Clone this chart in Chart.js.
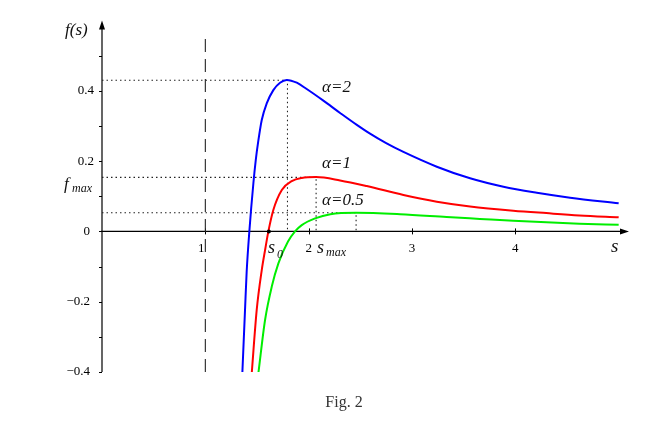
<!DOCTYPE html>
<html>
<head>
<meta charset="utf-8">
<script src="https://cdn.jsdelivr.net/npm/chart.js@4"></script>
<style>
  html, body { margin: 0; padding: 0; background: #fff; }
  canvas { display: block; }
</style>
</head>
<body>
<canvas id="fig" width="671" height="439"></canvas>
<script>
// values
const sBlue = [1.358, 1.384, 1.40, 1.426, 1.465, 1.488, 1.513, 1.546, 1.594, 1.658, 1.723, 1.788, 1.885, 1.981, 2.142, 2.304, 2.466, 2.594, 2.75, 2.917, 3.24, 3.562, 3.885, 4.208, 4.53, 5.0];
const fBlue = [-0.404, -0.224, -0.115, 0, 0.137, 0.203, 0.258, 0.317, 0.364, 0.402, 0.423, 0.431, 0.423, 0.405, 0.372, 0.337, 0.303, 0.278, 0.251, 0.226, 0.184, 0.151, 0.127, 0.110, 0.096, 0.080];

const sRed = [1.449, 1.497, 1.546, 1.58, 1.61, 1.658, 1.74, 1.836, 1.933, 2.072, 2.304, 2.562, 2.917, 3.24, 3.562, 3.98, 4.3, 4.62, 5.0];
const fRed = [-0.404, -0.224, -0.11, -0.05, 0, 0.061, 0.118, 0.143, 0.152, 0.1545, 0.145, 0.129, 0.1036, 0.0846, 0.071, 0.059, 0.052, 0.0455, 0.040];

const sGreen = [1.513, 1.578, 1.643, 1.707, 1.80, 1.868, 1.933, 2.062, 2.21, 2.459, 2.884, 3.335, 3.657, 3.98, 4.3, 4.62, 5.0];
const fGreen = [-0.404, -0.252, -0.157, -0.091, -0.029, 0, 0.018, 0.037, 0.049, 0.053, 0.049, 0.041, 0.0355, 0.030, 0.026, 0.022, 0.019];

const alphas = ['α=2', 'α=1', 'α=0.5'];
const sMax = [1.795, 2.072, 2.459];
const fMax = [0.430, 0.1536, 0.053];
const s0 = 1.615;
const asymptote = 1;

const xTicks = [1, 2, 3, 4];
const yTicks = [-0.4, -0.2, 0, 0.2, 0.4];
const yMinor = [-0.3, -0.1, 0.1, 0.3, 0.5];

const pts = (xs, ys) => xs.map((x, i) => ({ x: x, y: ys[i] }));

function curve(xs, ys, color) {
    return {
        data: pts(xs, ys),
        borderColor: color,
        borderWidth: 2,
        pointRadius: 0,
        cubicInterpolationMode: 'monotone',
        order: 1
    };
}

function guide(points, dash) {
    return {
        data: points,
        borderColor: '#222',
        borderWidth: 1.1,
        borderDash: dash,
        pointRadius: 0,
        tension: 0,
        order: 5
    };
}

const datasets = [
    curve(sBlue, fBlue, '#0000ff'),
    curve(sRed, fRed, '#ff0000'),
    curve(sGreen, fGreen, '#00ee00')
];
sMax.forEach((s, i) => {
    datasets.push(guide([{ x: 0, y: fMax[i] }, { x: s, y: fMax[i] }, { x: s, y: 0 }], [1.5, 3]));
});
datasets.push(guide([{ x: asymptote, y: -0.4 }, { x: asymptote, y: 0.567 }], [13, 7]));
datasets.push({
    data: [{ x: s0, y: 0 }],
    showLine: false,
    pointRadius: 2,
    pointBackgroundColor: '#000',
    pointBorderWidth: 0,
    order: 0
});

const SERIF = '"Liberation Serif", "DejaVu Serif", serif';

// axes with arrows, ticks and the labels of the figure
const figurePlugin = {
    id: 'figure',
    beforeDatasetsDraw(chart) {
        const ctx = chart.ctx;
        const xs = chart.scales.x, ys = chart.scales.y;
        const x0 = xs.getPixelForValue(0), y0 = ys.getPixelForValue(0);
        const xEnd = xs.getPixelForValue(xs.max), yTop = ys.getPixelForValue(ys.max);
        const yBot = ys.getPixelForValue(ys.min);
        ctx.save();
        ctx.strokeStyle = '#000';
        ctx.fillStyle = '#000';
        ctx.lineWidth = 1.2;
        ctx.beginPath();
        ctx.moveTo(x0 - 1, y0); ctx.lineTo(xEnd - 4, y0);
        ctx.moveTo(x0, yBot); ctx.lineTo(x0, yTop + 4);
        ctx.stroke();
        // arrow heads
        ctx.beginPath();
        ctx.moveTo(xEnd, y0); ctx.lineTo(xEnd - 9, y0 - 3); ctx.lineTo(xEnd - 9, y0 + 3); ctx.closePath();
        ctx.moveTo(x0, yTop); ctx.lineTo(x0 - 3, yTop + 9); ctx.lineTo(x0 + 3, yTop + 9); ctx.closePath();
        ctx.fill();
        // ticks
        ctx.lineWidth = 1;
        ctx.beginPath();
        xTicks.forEach(v => {
            const p = Math.round(xs.getPixelForValue(v)) + 0.5;
            ctx.moveTo(p, y0 - 3); ctx.lineTo(p, y0 + 3);
        });
        yTicks.concat(yMinor).forEach(v => {
            const p = Math.round(ys.getPixelForValue(v)) + 0.5;
            ctx.moveTo(x0 - 3, p); ctx.lineTo(x0, p);
        });
        ctx.stroke();
        // tick labels
        ctx.font = '13px ' + SERIF;
        ctx.textBaseline = 'middle';
        ctx.textAlign = 'center';
        xTicks.forEach(v => {
            const shift = v === asymptote ? -4 : 0;
            ctx.fillText(String(v), xs.getPixelForValue(v) + shift, y0 + 17);
        });
        ctx.textAlign = 'right';
        yTicks.forEach(v => {
            const txt = v === 0 ? '0' : (v < 0 ? '\u2212' + (-v).toFixed(1) : v.toFixed(1));
            const right = v > 0 ? x0 - 8 : x0 - 12;
            ctx.fillText(txt, right, ys.getPixelForValue(v));
        });
        ctx.restore();
    },
    afterDatasetsDraw(chart) {
        const ctx = chart.ctx;
        const xs = chart.scales.x, ys = chart.scales.y;
        const x0 = xs.getPixelForValue(0), y0 = ys.getPixelForValue(0);
        ctx.save();
        ctx.fillStyle = '#111';
        ctx.textBaseline = 'middle';
        ctx.textAlign = 'left';
        // curve names
        ctx.font = 'italic 17px ' + SERIF;
        const nameY = [87.5, 164, 201];
        alphas.forEach((a, i) => ctx.fillText(a, 322, nameY[i]));
        // f(s)
        ctx.fillText('f(s)', x0 - 37, 31);
        // f_max
        ctx.fillText('f', x0 - 38, ys.getPixelForValue(fMax[1]) + 7);
        ctx.font = 'italic 12px ' + SERIF;
        ctx.fillText('max', x0 - 30, ys.getPixelForValue(fMax[1]) + 11);
        // s_0
        ctx.font = 'italic 18px ' + SERIF;
        ctx.fillText('s', xs.getPixelForValue(s0) - 1, y0 + 17);
        ctx.font = 'italic 12px ' + SERIF;
        ctx.fillText('0', xs.getPixelForValue(s0) + 8, y0 + 23);
        // s_max
        ctx.font = 'italic 18px ' + SERIF;
        ctx.fillText('s', xs.getPixelForValue(sMax[1]) + 1, y0 + 17);
        ctx.font = 'italic 12px ' + SERIF;
        ctx.fillText('max', xs.getPixelForValue(sMax[1]) + 10, y0 + 21);
        // axis name
        ctx.font = 'italic 19px ' + SERIF;
        ctx.fillText('s', 611, y0 + 16);
        // caption
        ctx.font = '16px ' + SERIF;
        ctx.textAlign = 'center';
        ctx.fillStyle = '#333';
        ctx.fillText('Fig. 2', 344, 403);
        ctx.restore();
    }
};

new Chart(document.getElementById('fig'), {
    type: 'line',
    data: { datasets: datasets },
    options: {
        responsive: false,
        animation: false,
        events: [],
        layout: { padding: { left: 102, right: 42, top: 20.5, bottom: 67 } },
        plugins: { legend: { display: false }, tooltip: { enabled: false } },
        scales: {
            x: { type: 'linear', min: 0, max: 5.1, display: false },
            y: { type: 'linear', min: -0.4, max: 0.6, display: false }
        }
    },
    plugins: [figurePlugin]
});
</script>
</body>
</html>
